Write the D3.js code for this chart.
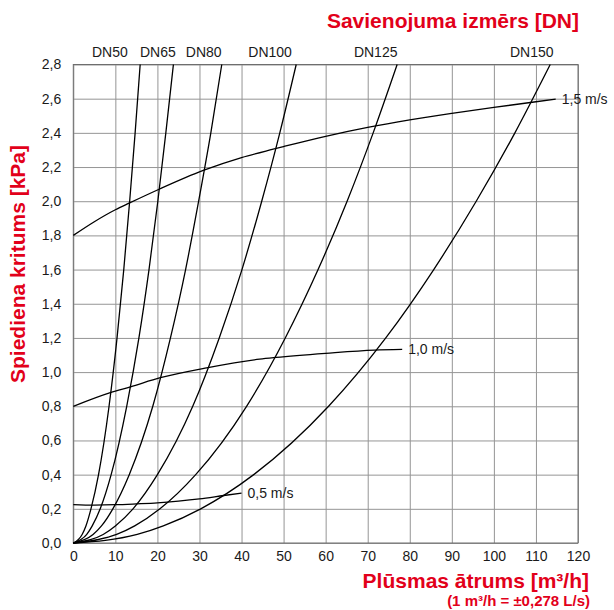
<!DOCTYPE html>
<html>
<head>
<meta charset="utf-8">
<script src="https://cdn.jsdelivr.net/npm/d3@7"></script>
<style>
  html, body { margin: 0; padding: 0; background: #fff; overflow: hidden; }
  svg { display: block; }
  svg text { font-family: "Liberation Sans", Arial, Helvetica, sans-serif; }
  .grid line { stroke: #959595; stroke-width: 1; }
  .axis text { font-size: 14px; fill: #1a1a1a; }
  .title { fill: #e2001a; font-weight: bold; }
  .curve { fill: none; stroke: #000; stroke-width: 1.3; }
</style>
</head>
<body>
<div id="chart"></div>
<script>
// axis ticks
const flowTicks = [0, 10, 20, 30, 40, 50, 60, 70, 80, 90, 100, 110, 120];
const dropTicks = [0, 0.2, 0.4, 0.6, 0.8, 1.0, 1.2, 1.4, 1.6, 1.8, 2.0, 2.2, 2.4, 2.6, 2.8];

// DN curves: pressure drop (kPa) read at these levels, flow (m3/h) per size
const dnDrop = [0, 0.05, 0.1, 0.2, 0.4, 0.8, 1.2, 1.6, 2.0, 2.4, 2.8];
const dnNames = ["DN50", "DN65", "DN80", "DN100", "DN125", "DN150"];
const dn50Flow = [0, 2.1, 3.0, 4.2, 6.0, 8.5, 10.4, 12.0, 13.4, 14.7, 15.9];
const dn65Flow = [0, 3.2, 4.5, 6.4, 9.0, 12.7, 15.6, 18.0, 20.1, 22.0, 23.8];
const dn80Flow = [0, 4.7, 6.7, 9.4, 13.3, 18.9, 23.1, 26.7, 29.8, 32.7, 35.3];
const dn100Flow = [0, 7.1, 10.0, 14.2, 20.0, 28.4, 34.7, 40.1, 44.8, 49.1, 53.0];
const dn125Flow = [0, 10.3, 14.6, 20.6, 29.1, 41.2, 50.4, 58.2, 65.1, 71.3, 77.0];
const dn150Flow = [0, 15.2, 21.4, 30.3, 42.9, 60.7, 74.3, 85.7, 95.8, 105.0, 113.4];
// where the DN names sit along the top (flow units)
const dnLabelFlow = [8.7, 20.1, 31.0, 46.8, 71.9, 109.0];

// velocity lines
const v15Label = "1,5 m/s";
const v15Flow = [0, 5, 10, 13.4, 20.4, 30.9, 40, 46.8, 50, 60, 70, 80, 90, 100, 110, 114.7];
const v15Drop = [1.80, 1.88, 1.95, 1.99, 2.07, 2.18, 2.255, 2.30, 2.32, 2.38, 2.432, 2.476, 2.514, 2.549, 2.582, 2.597];
const v10Label = "1,0 m/s";
const v10Flow = [0, 8.8, 13.6, 20.7, 31.7, 44.3, 48.2, 60, 71.6, 78.2];
const v10Drop = [0.80, 0.88, 0.914, 0.967, 1.025, 1.076, 1.086, 1.11, 1.129, 1.133];
const v05Label = "0,5 m/s";
const v05Flow = [0, 5, 10, 15, 20, 25, 30, 35.8, 40];
const v05Drop = [0.225, 0.222, 0.224, 0.229, 0.235, 0.245, 0.258, 0.278, 0.292];

const width = 614;
const height = 610;
const margin = { top: 64.5, right: 36, bottom: 67, left: 73.3 };
const innerWidth = width - margin.left - margin.right;
const innerHeight = height - margin.top - margin.bottom;

const locale = d3.formatLocale({ decimal: ",", thousands: " ", grouping: [3], currency: ["", ""] });
const fmtDrop = locale.format(".1f");

const x = d3.scaleLinear().domain([0, 120]).range([0, innerWidth]);
const y = d3.scaleLinear().domain([0, 2.8]).range([innerHeight, 0]);

const svg = d3.select("#chart")
  .append("svg")
  .attr("width", width)
  .attr("height", height)
  .attr("viewBox", `0 0 ${width} ${height}`);

const root = svg.append("g")
  .attr("transform", `translate(${margin.left},${margin.top})`);

// grid + tick labels
const xAxis = root.append("g")
  .attr("class", "axis grid")
  .attr("transform", `translate(0,${innerHeight})`)
  .call(d3.axisBottom(x).tickValues(flowTicks).tickSize(-innerHeight).tickPadding(8).tickFormat(d3.format("d")));
xAxis.select(".domain").remove();

const yAxis = root.append("g")
  .attr("class", "axis grid")
  .call(d3.axisLeft(y).tickValues(dropTicks).tickSize(-innerWidth).tickPadding(12).tickFormat(fmtDrop));
yAxis.select(".domain").remove();

root.selectAll(".axis").attr("font-family", null).attr("font-size", null);

root.append("rect")
  .attr("width", innerWidth)
  .attr("height", innerHeight)
  .attr("fill", "none")
  .attr("stroke", "#6e6e6e")
  .attr("stroke-width", 1);

root.append("clipPath")
  .attr("id", "plot-clip")
  .append("rect")
  .attr("x", -1)
  .attr("y", -1)
  .attr("width", innerWidth + 2)
  .attr("height", innerHeight + 2);

const line = d3.line()
  .x((d) => x(d[0]))
  .y((d) => y(d[1]))
  .curve(d3.curveMonotoneX);

const dnSeries = [dn50Flow, dn65Flow, dn80Flow, dn100Flow, dn125Flow, dn150Flow]
  .map((flows) => flows.map((q, i) => [q, dnDrop[i]]));

const zip = (qs, ps) => qs.map((q, i) => [q, ps[i]]);
const velocitySeries = [
  { label: v15Label, points: zip(v15Flow, v15Drop) },
  { label: v10Label, points: zip(v10Flow, v10Drop) },
  { label: v05Label, points: zip(v05Flow, v05Drop) },
];

const curves = root.append("g").attr("clip-path", "url(#plot-clip)");

curves.selectAll("path.dn")
  .data(dnSeries)
  .join("path")
  .attr("class", "curve dn")
  .attr("d", line);

curves.selectAll("path.velocity")
  .data(velocitySeries)
  .join("path")
  .attr("class", "curve velocity")
  .attr("d", (d) => line(d.points));

// velocity labels at line ends
root.selectAll("text.velocity-label")
  .data(velocitySeries)
  .join("text")
  .attr("class", "velocity-label")
  .attr("x", (d) => x(d.points[d.points.length - 1][0]) + 6)
  .attr("y", (d) => y(d.points[d.points.length - 1][1]))
  .attr("dy", "0.35em")
  .attr("font-size", 14)
  .attr("fill", "#1a1a1a")
  .text((d) => d.label);

// DN labels over the plot
root.selectAll("text.dn-label")
  .data(dnNames)
  .join("text")
  .attr("class", "dn-label")
  .attr("x", (d, i) => x(dnLabelFlow[i]))
  .attr("y", -8)
  .attr("text-anchor", "middle")
  .attr("font-size", 14)
  .attr("fill", "#1a1a1a")
  .text((d) => d);

// titles
svg.append("text")
  .attr("class", "title")
  .attr("x", 579)
  .attr("y", 28)
  .attr("text-anchor", "end")
  .attr("font-size", 21)
  .text("Savienojuma izmērs [DN]");

svg.append("text")
  .attr("class", "title")
  .attr("transform", "translate(25,264) rotate(-90)")
  .attr("text-anchor", "middle")
  .attr("font-size", 21)
  .text("Spiediena kritums [kPa]");

svg.append("text")
  .attr("class", "title")
  .attr("x", 589)
  .attr("y", 588)
  .attr("text-anchor", "end")
  .attr("font-size", 21)
  .text("Plūsmas ātrums [m³/h]");

svg.append("text")
  .attr("class", "title")
  .attr("x", 590)
  .attr("y", 606)
  .attr("text-anchor", "end")
  .attr("font-size", 15)
  .text("(1 m³/h = ±0,278 L/s)");
</script>
</body>
</html>
